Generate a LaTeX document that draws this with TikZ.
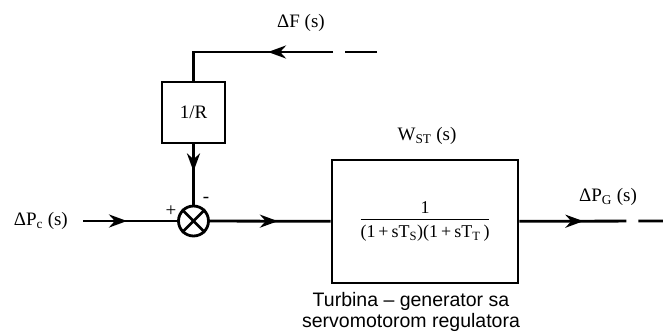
\documentclass[tikz,border=0pt]{standalone}
\usepackage{fontspec}
\setmainfont{Liberation Serif}
\newfontfamily\capfont{Liberation Sans}
\usetikzlibrary{arrows.meta,decorations.markings,positioning}

\begin{document}
\begin{tikzpicture}[x=1pt,y=-1pt,
    blk/.style={draw,line width=2.8pt,inner sep=0pt},
    sumnode/.style={draw,circle,line width=2.8pt,minimum size=30pt,inner sep=0pt},
    sig/.style={line width=2.8pt},
    tipat/.style={postaction={decorate},
      decoration={markings,mark=at position #1 with {\arrow{Stealth[length=18pt,width=13pt]}}}},
    lbl/.style={font=\fontsize{19}{21}\selectfont,inner sep=0pt}]

    \useasboundingbox (0,0) rectangle (663,335);

    % blocks
    \node[blk,minimum width=63pt,minimum height=61pt,lbl] (rbox) at (193.5,112.5) {1/R};
    \node[sumnode] (sum) at (193.5,221) {};
    \draw[line width=2.8pt] (sum.north east) -- (sum.south west) (sum.north west) -- (sum.south east);
    \node[blk,minimum width=186pt,minimum height=123pt,font=\fontsize{18}{20}\selectfont] (wst) at (425,221.5)
      {\begin{tabular}{@{}c@{}}1\\[0pt]\hline\rule{0pt}{18pt}(1\,+\,sT\textsubscript{S})(1\,+\,sT\textsubscript{T}\,)\end{tabular}};

    % free ends
    \coordinate (fin) at (377,52);
    \coordinate (fcorner) at (rbox.north |- fin);
    \coordinate (pcin) at (83,221);
    \coordinate (pgout) at (663,221);

    % labels
    \node[lbl] (flbl) at (301,23) {ΔF (s)};
    \node[lbl,anchor=east] (pclbl) at (68,221) {ΔP\textsubscript{c} (s)};
    \node[lbl] (wlbl) at (427,136) {W\textsubscript{ST} (s)};
    \node[lbl] (pglbl) at (608,197) {ΔP\textsubscript{G} (s)};
    \node[lbl] (plus) at (171,211) {+};
    \node[lbl] (minus) at (206,200) {-};
    \node[font=\capfont\fontsize{19.5}{20.5}\selectfont,align=center,inner sep=0pt] (cap) at (411,312)
      {Turbina – generator sa\\servomotorom regulatora};

    % signals
    \draw[sig,tipat=109pt,dash pattern=on 32pt off 12pt on 400pt] (fin) -- (fcorner) -- (rbox);
    \draw[sig,tipat=27pt] (rbox) -- (sum);
    \draw[sig,tipat=44pt] (pcin) -- (sum);
    \draw[sig,tipat=68pt] (sum) -- (wst);
    \draw[sig,tipat=64pt,dash pattern=on 107pt off 12pt on 40pt] (wst) -- (pgout);
\end{tikzpicture}
\end{document}
